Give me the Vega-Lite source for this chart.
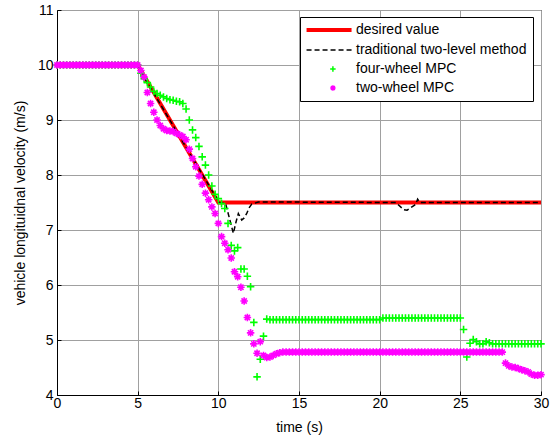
{
  "$schema": "https://vega.github.io/schema/vega-lite/v6.json",
  "width": 484,
  "height": 385,
  "autosize": {"type": "none"},
  "padding": {"left": 57, "top": 10, "right": 16, "bottom": 46},
  "background": "white",
  "config": {
    "font": "Liberation Sans",
    "view": {"stroke": "black", "strokeWidth": 1},
    "axis": {
      "labelFont": "Liberation Sans",
      "labelFontSize": 14,
      "labelColor": "black",
      "titleFont": "Liberation Sans",
      "titleFontSize": 14,
      "titleFontWeight": "normal",
      "titleColor": "black",
      "domainColor": "black",
      "gridColor": "#a0a0a0",
      "gridWidth": 1,
      "tickColor": "black",
      "tickSize": -4
    },
    "legend": {
      "labelFont": "Liberation Sans",
      "labelFontSize": 14,
      "labelColor": "black",
      "labelLimit": 400
    }
  },
  "datasets": {
    "desired": [
      {"t": 0, "v": 10}, {"t": 5, "v": 10}, {"t": 10, "v": 7.5}, {"t": 30, "v": 7.5}
    ],
    "trad": [
      {"t": 0, "v": 10}, {"t": 5, "v": 10}, {"t": 5.5, "v": 9.73}, {"t": 10.05, "v": 7.5},
      {"t": 10.45, "v": 7.48}, {"t": 10.7, "v": 7.2}, {"t": 10.93, "v": 6.94}, {"t": 11.1, "v": 7.15},
      {"t": 11.24, "v": 7.3}, {"t": 11.45, "v": 7.18}, {"t": 11.6, "v": 7.22}, {"t": 11.76, "v": 7.3},
      {"t": 11.9, "v": 7.4}, {"t": 12.07, "v": 7.47}, {"t": 12.48, "v": 7.51}, {"t": 21.0, "v": 7.5},
      {"t": 21.3, "v": 7.42}, {"t": 21.5, "v": 7.37}, {"t": 21.7, "v": 7.36}, {"t": 21.9, "v": 7.4},
      {"t": 22.1, "v": 7.44}, {"t": 22.25, "v": 7.47}, {"t": 22.35, "v": 7.56}, {"t": 22.5, "v": 7.5},
      {"t": 30, "v": 7.5}
    ],
    "mpc": [
      {"t": 0, "four": 10, "two": 10}, {"t": 0.2, "four": 10, "two": 10}, {"t": 0.4, "four": 10, "two": 10},
      {"t": 0.6, "four": 10, "two": 10}, {"t": 0.8, "four": 10, "two": 10}, {"t": 1.0, "four": 10, "two": 10},
      {"t": 1.2, "four": 10, "two": 10}, {"t": 1.4, "four": 10, "two": 10}, {"t": 1.6, "four": 10, "two": 10},
      {"t": 1.8, "four": 10, "two": 10}, {"t": 2.0, "four": 10, "two": 10}, {"t": 2.2, "four": 10, "two": 10},
      {"t": 2.4, "four": 10, "two": 10}, {"t": 2.6, "four": 10, "two": 10}, {"t": 2.8, "four": 10, "two": 10},
      {"t": 3.0, "four": 10, "two": 10}, {"t": 3.2, "four": 10, "two": 10}, {"t": 3.4, "four": 10, "two": 10},
      {"t": 3.6, "four": 10, "two": 10}, {"t": 3.8, "four": 10, "two": 10}, {"t": 4.0, "four": 10, "two": 10},
      {"t": 4.2, "four": 10, "two": 10}, {"t": 4.4, "four": 10, "two": 10}, {"t": 4.6, "four": 10, "two": 10},
      {"t": 4.8, "four": 10, "two": 10}, {"t": 5.0, "four": 10, "two": 10},
      {"t": 5.2, "four": 9.85, "two": 9.9}, {"t": 5.4, "four": 9.75, "two": 9.78},
      {"t": 5.6, "four": 9.68, "two": 9.5}, {"t": 5.8, "four": 9.6, "two": 9.3},
      {"t": 6.0, "four": 9.52, "two": 9.14}, {"t": 6.2, "four": 9.48, "two": 9.0},
      {"t": 6.4, "four": 9.45, "two": 8.9}, {"t": 6.6, "four": 9.42, "two": 8.84},
      {"t": 6.8, "four": 9.39, "two": 8.81}, {"t": 7.0, "four": 9.37, "two": 8.8},
      {"t": 7.2, "four": 9.36, "two": 8.79}, {"t": 7.4, "four": 9.34, "two": 8.76},
      {"t": 7.6, "four": 9.33, "two": 8.73}, {"t": 7.8, "four": 9.3, "two": 8.7},
      {"t": 8.0, "four": 9.2, "two": 8.64}, {"t": 8.2, "four": 9.0, "two": 8.47},
      {"t": 8.4, "four": 8.82, "two": 8.3}, {"t": 8.6, "four": 8.68, "two": 8.15},
      {"t": 8.8, "four": 8.52, "two": 7.98}, {"t": 9.0, "four": 8.33, "two": 7.83},
      {"t": 9.2, "four": 8.18, "two": 7.67}, {"t": 9.4, "four": 8.0, "two": 7.55},
      {"t": 9.6, "four": 7.8, "two": 7.42}, {"t": 9.8, "four": 7.65, "two": 7.3},
      {"t": 10.0, "four": 7.57, "two": 7.12}, {"t": 10.2, "four": 7.48, "two": 6.88},
      {"t": 10.4, "four": 7.39, "two": 6.76}, {"t": 10.6, "four": 7.12, "two": 6.64},
      {"t": 10.8, "four": 6.72, "two": 6.49}, {"t": 11.0, "four": 6.62, "two": 6.24},
      {"t": 11.2, "four": 6.68, "two": 6.15}, {"t": 11.4, "four": 6.29, "two": 5.96},
      {"t": 11.6, "four": 6.29, "two": 5.71}, {"t": 11.8, "four": 6.16, "two": 5.41},
      {"t": 12.0, "four": 5.97, "two": 5.13}, {"t": 12.2, "four": 5.32, "two": 4.93},
      {"t": 12.4, "four": 4.33, "two": 4.76}, {"t": 12.6, "four": 4.65, "two": 4.97},
      {"t": 12.8, "four": 5.07, "two": 4.72}, {"t": 13.0, "four": 5.38, "two": 4.68},
      {"t": 13.2, "four": 5.37, "two": 4.69}, {"t": 13.4, "four": 5.37, "two": 4.72},
      {"t": 13.6, "four": 5.37, "two": 4.75}, {"t": 13.8, "four": 5.37, "two": 4.77},
      {"t": 14.0, "four": 5.37, "two": 4.78}, {"t": 14.2, "four": 5.37, "two": 4.78},
      {"t": 14.4, "four": 5.37, "two": 4.78}, {"t": 14.6, "four": 5.37, "two": 4.78},
      {"t": 14.8, "four": 5.37, "two": 4.78}, {"t": 15.0, "four": 5.37, "two": 4.78},
      {"t": 15.2, "four": 5.37, "two": 4.78}, {"t": 15.4, "four": 5.37, "two": 4.78},
      {"t": 15.6, "four": 5.37, "two": 4.78}, {"t": 15.8, "four": 5.37, "two": 4.78},
      {"t": 16.0, "four": 5.37, "two": 4.78}, {"t": 16.2, "four": 5.37, "two": 4.78},
      {"t": 16.4, "four": 5.37, "two": 4.78}, {"t": 16.6, "four": 5.37, "two": 4.78},
      {"t": 16.8, "four": 5.37, "two": 4.78}, {"t": 17.0, "four": 5.37, "two": 4.78},
      {"t": 17.2, "four": 5.37, "two": 4.78}, {"t": 17.4, "four": 5.37, "two": 4.78},
      {"t": 17.6, "four": 5.37, "two": 4.78}, {"t": 17.8, "four": 5.37, "two": 4.78},
      {"t": 18.0, "four": 5.37, "two": 4.78}, {"t": 18.2, "four": 5.37, "two": 4.78},
      {"t": 18.4, "four": 5.37, "two": 4.78}, {"t": 18.6, "four": 5.37, "two": 4.78},
      {"t": 18.8, "four": 5.37, "two": 4.78}, {"t": 19.0, "four": 5.37, "two": 4.78},
      {"t": 19.2, "four": 5.37, "two": 4.78}, {"t": 19.4, "four": 5.37, "two": 4.78},
      {"t": 19.6, "four": 5.37, "two": 4.78}, {"t": 19.8, "four": 5.37, "two": 4.78},
      {"t": 20.0, "four": 5.37, "two": 4.78}, {"t": 20.2, "four": 5.4, "two": 4.78},
      {"t": 20.4, "four": 5.4, "two": 4.78}, {"t": 20.6, "four": 5.4, "two": 4.78},
      {"t": 20.8, "four": 5.4, "two": 4.78}, {"t": 21.0, "four": 5.4, "two": 4.78},
      {"t": 21.2, "four": 5.4, "two": 4.78}, {"t": 21.4, "four": 5.4, "two": 4.78},
      {"t": 21.6, "four": 5.4, "two": 4.78}, {"t": 21.8, "four": 5.4, "two": 4.78},
      {"t": 22.0, "four": 5.4, "two": 4.78}, {"t": 22.2, "four": 5.4, "two": 4.78},
      {"t": 22.4, "four": 5.4, "two": 4.78}, {"t": 22.6, "four": 5.4, "two": 4.78},
      {"t": 22.8, "four": 5.4, "two": 4.78}, {"t": 23.0, "four": 5.4, "two": 4.78},
      {"t": 23.2, "four": 5.4, "two": 4.78}, {"t": 23.4, "four": 5.4, "two": 4.78},
      {"t": 23.6, "four": 5.4, "two": 4.78}, {"t": 23.8, "four": 5.4, "two": 4.78},
      {"t": 24.0, "four": 5.4, "two": 4.78}, {"t": 24.2, "four": 5.4, "two": 4.78},
      {"t": 24.4, "four": 5.4, "two": 4.78}, {"t": 24.6, "four": 5.4, "two": 4.78},
      {"t": 24.8, "four": 5.4, "two": 4.78}, {"t": 25.0, "four": 5.4, "two": 4.78},
      {"t": 25.2, "four": 5.19, "two": 4.78}, {"t": 25.4, "four": 4.69, "two": 4.78},
      {"t": 25.6, "four": 4.94, "two": 4.78}, {"t": 25.8, "four": 5.01, "two": 4.78},
      {"t": 26.0, "four": 4.97, "two": 4.78}, {"t": 26.2, "four": 4.93, "two": 4.78},
      {"t": 26.4, "four": 4.93, "two": 4.78}, {"t": 26.6, "four": 4.97, "two": 4.78},
      {"t": 26.8, "four": 4.95, "two": 4.78}, {"t": 27.0, "four": 4.93, "two": 4.78},
      {"t": 27.2, "four": 4.93, "two": 4.78}, {"t": 27.4, "four": 4.93, "two": 4.78},
      {"t": 27.6, "four": 4.93, "two": 4.78}, {"t": 27.8, "four": 4.93, "two": 4.58},
      {"t": 28.0, "four": 4.93, "two": 4.53}, {"t": 28.2, "four": 4.93, "two": 4.51},
      {"t": 28.4, "four": 4.93, "two": 4.5}, {"t": 28.6, "four": 4.93, "two": 4.48},
      {"t": 28.8, "four": 4.93, "two": 4.46}, {"t": 29.0, "four": 4.93, "two": 4.44},
      {"t": 29.2, "four": 4.93, "two": 4.42}, {"t": 29.4, "four": 4.93, "two": 4.38},
      {"t": 29.6, "four": 4.93, "two": 4.36}, {"t": 29.8, "four": 4.93, "two": 4.36},
      {"t": 30.0, "four": 4.93, "two": 4.37}
    ]
  },
  "encoding": {
    "x": {
      "type": "quantitative",
      "scale": {"domain": [0, 30], "nice": false},
      "axis": {"title": "time (s)", "values": [0, 5, 10, 15, 20, 25, 30], "labelPadding": 5, "titlePadding": 10, "labelFlush": false}
    },
    "y": {
      "type": "quantitative",
      "scale": {"domain": [4, 11], "nice": false, "zero": false},
      "axis": {"title": "vehicle longituidnal velocity (m/s)", "values": [4, 5, 6, 7, 8, 9, 10, 11], "labelPadding": 8, "titlePadding": 10, "labelFlush": false}
    }
  },
  "layer": [
    {
      "data": {"name": "desired"},
      "mark": {"type": "line", "strokeWidth": 4, "clip": true},
      "encoding": {
        "x": {"field": "t", "type": "quantitative"},
        "y": {"field": "v", "type": "quantitative"},
        "color": {
          "datum": "desired value",
          "type": "nominal",
          "scale": {
            "domain": ["desired value", "traditional two-level method", "four-wheel MPC", "two-wheel MPC"],
            "range": ["#ff0000", "#000000", "#00ff00", "#ff00ff"]
          },
          "legend": {
            "title": null,
            "orient": "none",
            "legendX": 243,
            "legendY": 7,
            "strokeColor": "black",
            "fillColor": "white",
            "padding": 6,
            "symbolSize": 2025,
            "symbolOffset": 21,
            "labelOffset": 15,
            "rowPadding": 5,
            "symbolType": "stroke",
            "encode": {
              "symbols": {
                "update": {
                  "shape": {"signal": "datum.value === 'four-wheel MPC' ? 'M-1.4,0L0.6,0M-0.4,-1L-0.4,1' : datum.value === 'two-wheel MPC' ? 'M-1.4,0L0.6,0M-0.4,-1L-0.4,1M-1.1,-0.7L0.3,0.7M-1.1,0.7L0.3,-0.7' : 'M-1.22,0L0.78,0'"},
                  "size": {"signal": "datum.value === 'four-wheel MPC' || datum.value === 'two-wheel MPC' ? 30 : 2025"},
                  "strokeWidth": {"signal": "datum.value === 'desired value' ? 4 : 1.5"},
                  "strokeDash": {"signal": "datum.value === 'traditional two-level method' ? [5, 3] : [1, 0]"},
                  "stroke": {"signal": "scale('color', datum.value)"},
                  "fill": {"value": "transparent"},
                  "opacity": {"value": 1}
                }
              }
            }
          }
        }
      }
    },
    {
      "data": {"name": "trad"},
      "mark": {"type": "line", "strokeWidth": 1.5, "strokeDash": [5, 3], "clip": true},
      "encoding": {
        "x": {"field": "t", "type": "quantitative"},
        "y": {"field": "v", "type": "quantitative"},
        "color": {"datum": "traditional two-level method", "type": "nominal"}
      }
    },
    {
      "data": {"name": "mpc"},
      "mark": {"type": "point", "shape": "M-1,0L1,0M0,-1L0,1", "size": 56, "filled": false, "strokeWidth": 1.6, "opacity": 1},
      "encoding": {
        "x": {"field": "t", "type": "quantitative"},
        "y": {"field": "four", "type": "quantitative"},
        "color": {"datum": "four-wheel MPC", "type": "nominal"}
      }
    },
    {
      "data": {"name": "mpc"},
      "mark": {"type": "point", "shape": "M-1,0L1,0M0,-1L0,1M-0.7,-0.7L0.7,0.7M-0.7,0.7L0.7,-0.7", "size": 56, "filled": false, "strokeWidth": 1.6, "opacity": 1},
      "encoding": {
        "x": {"field": "t", "type": "quantitative"},
        "y": {"field": "two", "type": "quantitative"},
        "color": {"datum": "two-wheel MPC", "type": "nominal"}
      }
    }
  ]
}
